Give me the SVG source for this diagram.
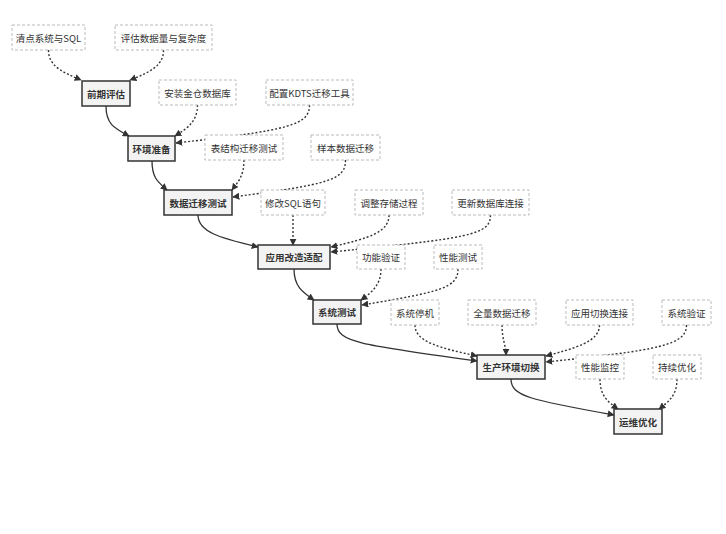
<svg xmlns="http://www.w3.org/2000/svg" width="726" height="534" viewBox="0 0 726 534">
<style>
text{font-family:"Noto Sans CJK SC","Noto Sans",sans-serif;font-size:9.5px;fill:#333;text-anchor:middle;dominant-baseline:central}
.m rect{fill:#f3f3f3;stroke:#333;stroke-width:1.5}
.m text{font-weight:bold}
.d rect{fill:#fff;stroke:#bbb;stroke-width:1;stroke-dasharray:3,2}
.e path{fill:none;stroke:#333;stroke-width:1.3}
.e .s{marker-end:url(#a)}
.e .t{stroke-dasharray:2,2;stroke-width:1.4;marker-end:url(#a)}
</style>
<defs>
<marker id="a" viewBox="0 0 10 10" refX="9" refY="5" markerWidth="7" markerHeight="7" markerUnits="userSpaceOnUse" orient="auto"><path d="M0,0 L10,5 L0,10 z" fill="#333"/></marker>
</defs>
<rect width="726" height="534" fill="#fff"/>
<g class="e" id="connectors">
<path class="s" d="M106,106 C106,124 114,128 129,136"/>
<path class="s" d="M152,161 C152,178 158,182 167,190"/>
<path class="s" d="M198,215 C198,232 220,238 258,247"/>
<path class="s" d="M294,269 C294,286 302,292 314,300"/>
<path class="s" d="M337,324 C337,342 360,345 477,361"/>
<path class="s" d="M511,379 C511,396 530,400 614,415"/>
<path class="t" d="M48.5,50 C48.5,66 62,72 81,80"/>
<path class="t" d="M163.5,50 C163.5,66 150,72 130,80"/>
<path class="t" d="M197.5,105 C197.5,121 188,128 175,136"/>
<path class="t" d="M309.5,105 C309.5,125 290,130 176,143"/>
<path class="t" d="M244,160 C244,176 238,182 232,190"/>
<path class="t" d="M345.5,160 C345.5,180 330,184 233,197"/>
<path class="t" d="M293,215 L293,245"/>
<path class="t" d="M389,215 C389,232 370,238 331,247"/>
<path class="t" d="M490.5,215 C490.5,235 470,238 331,252"/>
<path class="t" d="M381,269 C381,285 372,292 361,300"/>
<path class="t" d="M458,269 C458,288 440,292 362,305"/>
<path class="t" d="M415,325 C415,342 440,348 477,356"/>
<path class="t" d="M502,325 C502,340 506,345 506,355"/>
<path class="t" d="M599.5,325 C599.5,342 575,348 546,356"/>
<path class="t" d="M686.5,325 C686.5,345 660,350 546,362"/>
<path class="t" d="M600,379 C600,396 608,402 618,409"/>
<path class="t" d="M677,379 C677,396 668,402 659,409"/>
</g>
<g class="m" id="n1"><rect x="82" y="81" width="48" height="25"/><text x="106" y="93.5">前期评估</text></g>
<g class="m" id="n2"><rect x="128" y="136" width="47" height="25"/><text x="151.5" y="148.5">环境准备</text></g>
<g class="m" id="n3"><rect x="164" y="190" width="68" height="25"/><text x="198" y="202.5">数据迁移测试</text></g>
<g class="m" id="n4"><rect x="258" y="245" width="72" height="24"/><text x="294" y="257">应用改造适配</text></g>
<g class="m" id="n5"><rect x="313" y="300" width="48" height="24"/><text x="337" y="312">系统测试</text></g>
<g class="m" id="n6"><rect x="477" y="355" width="68" height="24"/><text x="511" y="367">生产环境切换</text></g>
<g class="m" id="n7"><rect x="614" y="409" width="48" height="25"/><text x="638" y="421.5">运维优化</text></g>
<g class="d" id="d1"><rect x="12" y="25" width="73" height="25"/><text x="48.5" y="37.5">清点系统与SQL</text></g>
<g class="d" id="d2"><rect x="115" y="25" width="97" height="25"/><text x="163.5" y="37.5">评估数据量与复杂度</text></g>
<g class="d" id="d3"><rect x="159" y="80" width="77" height="25"/><text x="197.5" y="92.5">安装金仓数据库</text></g>
<g class="d" id="d4"><rect x="266" y="80" width="87" height="25"/><text x="309.5" y="92.5">配置KDTS迁移工具</text></g>
<g class="d" id="d5"><rect x="205" y="135" width="78" height="25"/><text x="244" y="147.5">表结构迁移测试</text></g>
<g class="d" id="d6"><rect x="311" y="135" width="69" height="25"/><text x="345.5" y="147.5">样本数据迁移</text></g>
<g class="d" id="d7"><rect x="261" y="190" width="64" height="25"/><text x="293" y="202.5">修改SQL语句</text></g>
<g class="d" id="d8"><rect x="355" y="190" width="68" height="25"/><text x="389" y="202.5">调整存储过程</text></g>
<g class="d" id="d9"><rect x="452" y="190" width="77" height="25"/><text x="490.5" y="202.5">更新数据库连接</text></g>
<g class="d" id="d10"><rect x="357" y="245" width="48" height="24"/><text x="381" y="257">功能验证</text></g>
<g class="d" id="d11"><rect x="434" y="245" width="48" height="24"/><text x="458" y="257">性能测试</text></g>
<g class="d" id="d12"><rect x="391" y="300" width="48" height="25"/><text x="415" y="312.5">系统停机</text></g>
<g class="d" id="d13"><rect x="468" y="300" width="68" height="25"/><text x="502" y="312.5">全量数据迁移</text></g>
<g class="d" id="d14"><rect x="566" y="300" width="67" height="25"/><text x="599.5" y="312.5">应用切换连接</text></g>
<g class="d" id="d15"><rect x="662" y="300" width="49" height="25"/><text x="686.5" y="312.5">系统验证</text></g>
<g class="d" id="d16"><rect x="576" y="355" width="48" height="24"/><text x="600" y="367">性能监控</text></g>
<g class="d" id="d17"><rect x="653" y="355" width="48" height="24"/><text x="677" y="367">持续优化</text></g>
</svg>
